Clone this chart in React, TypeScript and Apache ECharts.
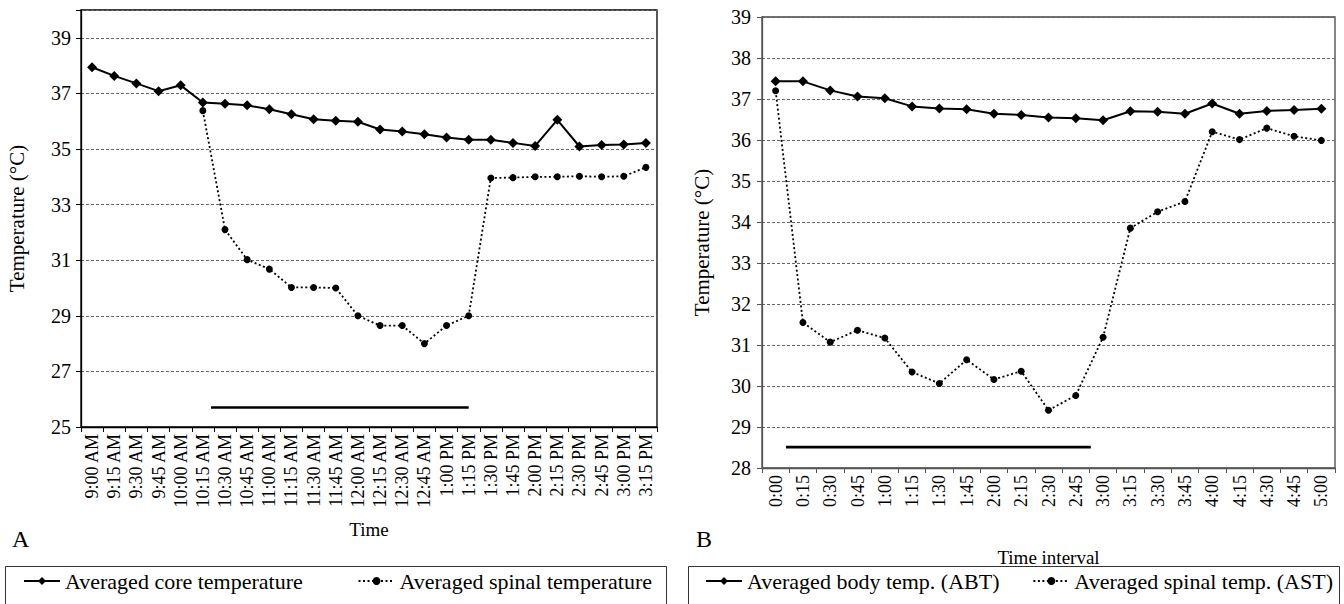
import React, { useEffect, useRef } from "react";
import * as echarts from "echarts";

const timesA = [
  "9:00 AM", "9:15 AM", "9:30 AM", "9:45 AM", "10:00 AM", "10:15 AM", "10:30 AM", "10:45 AM",
  "11:00 AM", "11:15 AM", "11:30 AM", "11:45 AM", "12:00 AM", "12:15 AM", "12:30 AM", "12:45 AM",
  "1:00 PM", "1:15 PM", "1:30 PM", "1:45 PM", "2:00 PM", "2:15 PM", "2:30 PM", "2:45 PM", "3:00 PM", "3:15 PM",
];
const coreA = [
  37.94, 37.63, 37.36, 37.08, 37.29, 36.67, 36.63, 36.57, 36.43, 36.25, 36.07, 36.02, 35.98,
  35.7, 35.63, 35.53, 35.41, 35.33, 35.33, 35.22, 35.11, 36.05, 35.09, 35.14, 35.16, 35.22,
];
const spinalA = [
  "-", "-", "-", "-", "-", 36.38, 32.1, 31.02, 30.68, 30.02, 30.02, 30.0, 29.0,
  28.65, 28.65, 28.0, 28.65, 29.0, 33.96, 33.97, 34.0, 34.0, 34.02, 34.0, 34.02, 34.34,
];
const yTicksA = [25, 27, 29, 31, 33, 35, 37, 39];
const barA = [5.87, 17.5];
const barLevelA = 25.7;

const timesB = [
  "0:00", "0:15", "0:30", "0:45", "1:00", "1:15", "1:30", "1:45", "2:00", "2:15", "2:30",
  "2:45", "3:00", "3:15", "3:30", "3:45", "4:00", "4:15", "4:30", "4:45", "5:00",
];
const bodyB = [
  37.43, 37.43, 37.21, 37.06, 37.02, 36.82, 36.77, 36.75, 36.64, 36.61, 36.55,
  36.53, 36.48, 36.7, 36.69, 36.64, 36.89, 36.64, 36.71, 36.73, 36.76,
];
const spinalB = [
  37.2, 31.55, 31.07, 31.36, 31.17, 30.34, 30.06, 30.64, 30.16, 30.36, 29.41,
  29.77, 31.19, 33.85, 34.25, 34.5, 36.2, 36.01, 36.29, 36.09, 35.99,
];
const barB = [0.88, 12.05];
const barLevelB = 28.51;

const FONT = '"Liberation Serif", "Times New Roman", serif';

export default function App() {
  const ref = useRef<HTMLDivElement>(null);
  useEffect(() => {
    const chart = echarts.init(ref.current!, null, { renderer: "svg" });
    const gridLine = { show: true, lineStyle: { color: "#666", type: [3, 2] as any, width: 1 } };
    const catAxis = (gridIndex: number, data: string[], name: string, nameGap: number, color: string) => ({
      type: "category",
      gridIndex,
      data,
      boundaryGap: true,
      name,
      nameLocation: "middle",
      nameGap,
      nameTextStyle: { fontFamily: FONT, fontSize: 19, color: "#000" },
      axisLine: { show: true, lineStyle: { color, width: 1.3 } },
      axisTick: { show: true, alignWithLabel: false, length: 5, lineStyle: { color } },
      axisLabel: { rotate: 90, interval: 0, margin: 7, fontFamily: FONT, fontSize: 18, color: "#000" },
      splitLine: { show: false },
    });
    const hiddenX = (gridIndex: number, max: number) => ({
      type: "value",
      gridIndex,
      min: 0,
      max,
      show: false,
    });
    const legendItem = (name: string, pos: any) => ({
      ...pos,
      top: 565,
      itemWidth: 36,
      itemHeight: 10,
      data: [name],
      textStyle: { fontFamily: FONT, fontSize: 22, color: "#000" },
    });
    chart.setOption({
      animation: false,
      textStyle: { fontFamily: FONT },
      grid: [
        { left: 81, top: 10, width: 576, height: 417, show: true, borderColor: "#000", borderWidth: 1.3, backgroundColor: "transparent" },
        { left: 762, top: 17, width: 573, height: 451, show: true, borderColor: "#444", borderWidth: 1.3, backgroundColor: "transparent" },
      ],
      xAxis: [
        catAxis(0, timesA, "Time", 93, "#000"),
        hiddenX(0, timesA.length),
        catAxis(1, timesB, "Time interval", 80, "#555"),
        hiddenX(1, timesB.length),
      ],
      yAxis: [
        {
          type: "value",
          gridIndex: 0,
          min: 25,
          max: 40,
          interval: 2,
          name: "Temperature (°C)",
          nameLocation: "middle",
          nameGap: 54,
          nameTextStyle: { fontFamily: FONT, fontSize: 21, color: "#000" },
          axisLine: { show: true, lineStyle: { color: "#000", width: 1.3 } },
          axisTick: { show: true, length: 5, lineStyle: { color: "#000" } },
          axisLabel: {
            margin: 10,
            fontFamily: FONT,
            fontSize: 20,
            color: "#000",
            formatter: (v: number) => (yTicksA.includes(v) ? String(v) : ""),
          },
          splitLine: gridLine,
        },
        {
          type: "value",
          gridIndex: 1,
          min: 28,
          max: 39,
          interval: 1,
          name: "Temperature (°C)",
          nameLocation: "middle",
          nameGap: 50,
          nameTextStyle: { fontFamily: FONT, fontSize: 21, color: "#000" },
          axisLine: { show: true, lineStyle: { color: "#555", width: 1.3 } },
          axisTick: { show: true, length: 5, lineStyle: { color: "#555" } },
          axisLabel: { margin: 11, fontFamily: FONT, fontSize: 20, color: "#000" },
          splitLine: gridLine,
        },
      ],
      legend: [
        legendItem("Averaged core temperature", { left: 18 }),
        legendItem("Averaged spinal temperature", { right: 1344 - 657 }),
        legendItem("Averaged body temp. (ABT)", { left: 700 }),
        legendItem("Averaged spinal temp. (AST)", { right: 6 }),
      ],
      graphic: [
        { type: "rect", shape: { x: 5.5, y: 566.5, width: 661, height: 50 }, style: { fill: "none", stroke: "#333", lineWidth: 1 } },
        { type: "rect", shape: { x: 688.5, y: 566.5, width: 651, height: 50 }, style: { fill: "none", stroke: "#333", lineWidth: 1 } },
        { type: "text", left: 12, top: 527, style: { text: "A", font: `24px ${FONT}`, fill: "#000" } },
        { type: "text", left: 696, top: 527, style: { text: "B", font: `24px ${FONT}`, fill: "#000" } },
      ],
      series: [
        {
          name: "Averaged core temperature",
          type: "line",
          xAxisIndex: 0,
          yAxisIndex: 0,
          data: coreA,
          symbol: "diamond",
          symbolSize: 10,
          itemStyle: { color: "#000" },
          lineStyle: { color: "#000", width: 2 },
        },
        {
          name: "Averaged spinal temperature",
          type: "line",
          xAxisIndex: 0,
          yAxisIndex: 0,
          data: spinalA,
          symbol: "circle",
          symbolSize: 7,
          itemStyle: { color: "#000" },
          lineStyle: { color: "#000", width: 1.8, type: [2, 2.5] as any },
        },
        {
          name: "barA",
          type: "line",
          xAxisIndex: 1,
          yAxisIndex: 0,
          data: barA.map((x) => [x, barLevelA]),
          symbol: "none",
          lineStyle: { color: "#000", width: 2.6 },
          silent: true,
        },
        {
          name: "Averaged body temp. (ABT)",
          type: "line",
          xAxisIndex: 2,
          yAxisIndex: 1,
          data: bodyB,
          symbol: "diamond",
          symbolSize: 10,
          itemStyle: { color: "#000" },
          lineStyle: { color: "#000", width: 2 },
        },
        {
          name: "Averaged spinal temp. (AST)",
          type: "line",
          xAxisIndex: 2,
          yAxisIndex: 1,
          data: spinalB,
          symbol: "circle",
          symbolSize: 7,
          itemStyle: { color: "#000" },
          lineStyle: { color: "#000", width: 1.8, type: [2, 2.5] as any },
        },
        {
          name: "barB",
          type: "line",
          xAxisIndex: 3,
          yAxisIndex: 1,
          data: barB.map((x) => [x, barLevelB]),
          symbol: "none",
          lineStyle: { color: "#000", width: 2.6 },
          silent: true,
        },
      ],
    });
    return () => chart.dispose();
  }, []);
  return (
    <div
      ref={ref}
      style={{ position: "fixed", left: 0, top: 0, width: 1344, height: 604, background: "#fff" }}
    />
  );
}
